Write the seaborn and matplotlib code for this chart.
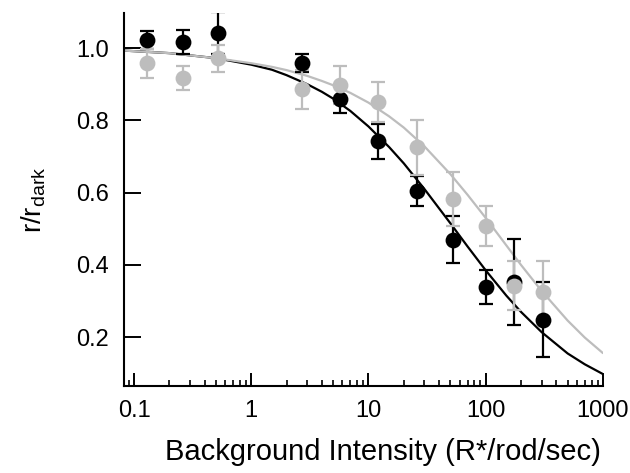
import numpy as np
import pandas as pd
import matplotlib
matplotlib.use("Agg")
import matplotlib.pyplot as plt
import matplotlib.ticker as mticker
import seaborn as sns

# measured points (background intensity in R*/rod/sec)
intensity = [0.13, 0.26, 0.52, 2.7, 5.7, 12, 26, 53, 100, 175, 310]
black_r = [1.022, 1.017, 1.041, 0.958, 0.859, 0.742, 0.604, 0.469, 0.339, 0.353, 0.248]
black_err = [0.025, 0.033, 0.058, 0.025, 0.039, 0.049, 0.042, 0.065, 0.047, 0.119, 0.104]
gray_r = [0.958, 0.917, 0.972, 0.886, 0.897, 0.851, 0.725, 0.582, 0.508, 0.342, 0.325]
gray_err = [0.040, 0.032, 0.037, 0.054, 0.052, 0.055, 0.077, 0.075, 0.055, 0.068, 0.086]

# fitted curves
fit_x = [0.082, 0.2, 0.5, 1, 1.5, 2, 3, 4, 5, 7, 10, 15, 20, 30, 50, 70, 100,
         150, 200, 300, 500, 700, 1000]
black_fit = [0.993, 0.986, 0.972, 0.954, 0.940, 0.925, 0.900, 0.879, 0.860,
             0.826, 0.783, 0.726, 0.681, 0.610, 0.515, 0.451, 0.385, 0.315,
             0.270, 0.214, 0.155, 0.125, 0.098]
gray_fit = [0.993, 0.986, 0.972, 0.958, 0.948, 0.939, 0.923, 0.909, 0.897,
            0.876, 0.849, 0.811, 0.780, 0.728, 0.651, 0.594, 0.530, 0.454,
            0.400, 0.328, 0.246, 0.199, 0.156]

x_ticks = [0.1, 1, 10, 100, 1000]
x_ticklabels = ["0.1", "1", "10", "100", "1000"]
y_ticks = [0.2, 0.4, 0.6, 0.8, 1.0]

BLACK = "#000000"
GRAY = "#bdbdbd"

sns.set_style("ticks")
plt.rcParams["font.family"] = ["Liberation Sans", "DejaVu Sans"]
plt.rcParams["mathtext.default"] = "regular"
for key in ["text.color", "axes.labelcolor", "xtick.color", "ytick.color"]:
    plt.rcParams[key] = "black"

fig = plt.figure(figsize=(6.3, 4.73), dpi=100)
ax = fig.add_axes([0.197, 0.184, 0.76, 0.7885])

fits = pd.DataFrame({"x": fit_x * 2,
                     "y": black_fit + gray_fit,
                     "cond": ["black"] * len(fit_x) + ["gray"] * len(fit_x)})
sns.lineplot(data=fits, x="x", y="y", hue="cond",
             palette={"black": BLACK, "gray": GRAY},
             hue_order=["black", "gray"], lw=1.6, legend=False, ax=ax,
             estimator=None, sort=True)

for r, err, c in [(black_r, black_err, BLACK), (gray_r, gray_err, GRAY)]:
    ax.errorbar(intensity, r, yerr=err, fmt="none", ecolor=c,
                elinewidth=1.6, capsize=5, capthick=1.6, zorder=3)
    sns.scatterplot(x=intensity, y=r, color=c, s=130, linewidth=0,
                    ax=ax, zorder=4)

ax.set_xscale("log")
ax.set_xlim(0.0822, 1000)
ax.set_ylim(0.065, 1.097)

ax.xaxis.set_major_locator(mticker.FixedLocator(x_ticks))
ax.xaxis.set_major_formatter(mticker.FixedFormatter(x_ticklabels))
ax.xaxis.set_minor_locator(mticker.LogLocator(base=10, subs=np.arange(2, 10)))
ax.xaxis.set_minor_formatter(mticker.NullFormatter())
ax.set_yticks(y_ticks)
ax.set_yticklabels([f"{v:.1f}" for v in y_ticks])

ax.tick_params(axis="x", which="major", direction="in", length=9.5,
               width=1.4, labelsize=17, pad=10)
ax.tick_params(axis="x", which="minor", direction="in", length=4.5,
               width=1.2)
ax.tick_params(axis="y", which="major", direction="in", length=12.5,
               width=1.4, labelsize=17, pad=11)

for side in ["top", "right"]:
    ax.spines[side].set_visible(False)
for side in ["left", "bottom"]:
    ax.spines[side].set_linewidth(1.5)
    ax.spines[side].set_color("black")

ax.set_xlabel("Background Intensity (R*/rod/sec)", fontsize=21)
ax.xaxis.set_label_coords(0.54, -0.14)
ax.set_ylabel(r"r/r$_{dark}$", fontsize=20, labelpad=20)

fig.savefig("out.png", dpi=100)
